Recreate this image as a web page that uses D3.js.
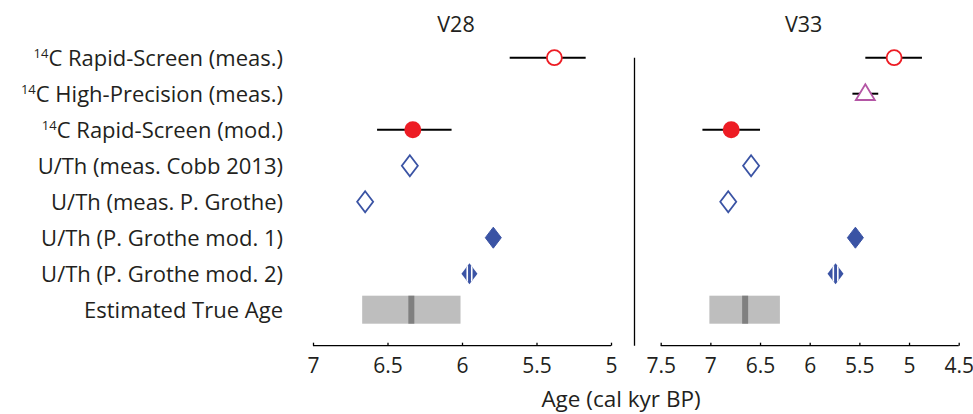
<!DOCTYPE html>
<html><head><meta charset="utf-8">
<script src="https://cdn.jsdelivr.net/npm/d3@7"></script>
<style>body{margin:0;background:#fff}text{font-family:"Open Sans",sans-serif;fill:#231f20}</style>
</head><body><svg id="c" width="973" height="414"></svg>
<script>
const categories = ["Rapid-Screen (meas.)","High-Precision (meas.)","Rapid-Screen (mod.)","U/Th (meas. Cobb 2013)","U/Th (meas. P. Grothe)","U/Th (P. Grothe mod. 1)","U/Th (P. Grothe mod. 2)","Estimated True Age"];
const has14C = [true,true,true,false,false,false,false,false];
const markers = ["openCircle","triangle","filledCircle","openDiamond","openDiamond","filledDiamond","stripedDiamond","box"];
const panels = ["V28","V33"];
const v28Values = [5.38, null, 6.33, 6.35, 6.65, 5.79, 5.95, 6.34];
const v28Low = [5.68, null, 6.57, null, null, null, null, 6.67];
const v28High = [5.17, null, 6.07, null, null, null, null, 6.01];
const v33Values = [5.15, 5.44, 6.79, 6.59, 6.82, 5.54, 5.74, 6.65];
const v33Low = [5.44, 5.57, 7.08, null, null, null, null, 7.01];
const v33High = [4.87, 5.31, 6.50, null, null, null, null, 6.30];
const v28Ticks = [7, 6.5, 6, 5.5, 5];
const v33Ticks = [7.5, 7, 6.5, 6, 5.5, 5, 4.5];
const xLabel = "Age (cal kyr BP)";

const svg = d3.select("#c");
const y = d3.scaleLinear().domain([0, 8]).range([57.7, 345.7]);
const xL = d3.scaleLinear().domain([7, 5]).range([313, 611]);
const xR = d3.scaleLinear().domain([7.5, 4.5]).range([660.7, 958.7]);
const RED = "#ed1c24", BLUE = "#3a53a4", MAG = "#b456a5";

// category labels
const lab = svg.append("g");
categories.forEach((c, i) => {
  const t = lab.append("text").attr("x", 283).attr("y", y(i) + 8).attr("text-anchor", "end").style("font-size", "22px");
  if (has14C[i]) {
    t.append("tspan").text("14").style("font-size", "13px").attr("dy", -8);
    t.append("tspan").text("C " + c).attr("dy", 8);
  } else t.text(c);
});

// vertical divider
svg.append("line").attr("x1", 634.5).attr("x2", 634.5).attr("y1", y(0)).attr("y2", y(8)).attr("stroke", "#000").attr("stroke-width", 1.3);

function drawPanel(x, vals, lo, hi, ticks, title) {
  const g = svg.append("g");
  const [r0, r1] = x.range();
  g.append("text").attr("x", (r0 + r1) / 2 - 6).attr("y", 32).attr("text-anchor", "middle").style("font-size", "21.5px").text(title);
  // axis
  const ax = g.append("g").attr("transform", `translate(0,${y(8)})`)
    .call(d3.axisBottom(x).tickValues(ticks).tickFormat(d3.format("")).tickSize(-3).tickSizeOuter(0).tickPadding(13));
  ax.select(".domain").attr("stroke", "#000").attr("stroke-width", 1.3).attr("d", `M${r0},0H${r1}`);
  ax.selectAll(".tick line").attr("stroke", "#000").attr("stroke-width", 1.3);
  ax.selectAll(".tick text").style("font-size", "21px").style("font-family", '"Open Sans",sans-serif').attr("fill", "#231f20").attr("dy", "0.71em").attr("y", 12);

  vals.forEach((v, i) => {
    if (v == null) return;
    const cy = y(i), cx = x(v), m = markers[i];
    if (m === "box") {
      g.append("rect").attr("x", x(lo[i])).attr("width", x(hi[i]) - x(lo[i])).attr("y", cy - 14).attr("height", 28).attr("fill", "#bebebe");
      g.append("rect").attr("x", cx - 3).attr("width", 6).attr("y", cy - 14).attr("height", 28).attr("fill", "#808080");
      return;
    }
    if (lo[i] != null) {
      g.append("line").attr("x1", x(lo[i])).attr("x2", x(hi[i])).attr("y1", cy).attr("y2", cy).attr("stroke", "#000").attr("stroke-width", 2);
    }
    if (m === "openCircle") {
      g.append("circle").attr("cx", cx).attr("cy", cy).attr("r", 7.5).attr("fill", "#fff").attr("stroke", RED).attr("stroke-width", 1.8);
    } else if (m === "filledCircle") {
      g.append("circle").attr("cx", cx).attr("cy", cy).attr("r", 8.5).attr("fill", RED);
    } else if (m === "triangle") {
      g.append("path").attr("d", `M${cx},${cy - 9.5}L${cx + 9.5},${cy + 6.3}L${cx - 9.5},${cy + 6.3}Z`).attr("fill", "#fff").attr("stroke", MAG).attr("stroke-width", 1.8);
    } else {
      const d = `M${cx},${cy - 10.5}L${cx + 8},${cy}L${cx},${cy + 10.5}L${cx - 8},${cy}Z`;
      if (m === "openDiamond") {
        g.append("path").attr("d", d).attr("fill", "#fff").attr("stroke", BLUE).attr("stroke-width", 1.8);
      } else if (m === "filledDiamond") {
        g.append("path").attr("d", d).attr("fill", BLUE).attr("stroke", BLUE).attr("stroke-width", 1);
      } else {
        const id = "clip" + title + i;
        svg.append("clipPath").attr("id", id).append("path").attr("d", d);
        g.append("path").attr("d", d).attr("fill", BLUE);
        [-3, 1.5].forEach(o => g.append("rect").attr("x", cx + o).attr("y", cy - 9).attr("width", 1.6).attr("height", 18).attr("fill", "#fff").attr("clip-path", `url(#${id})`));
      }
    }
  });
}
drawPanel(xL, v28Values, v28Low, v28High, v28Ticks, panels[0]);
drawPanel(xR, v33Values, v33Low, v33High, v33Ticks, panels[1]);

svg.append("text").attr("x", 621).attr("y", 407).attr("text-anchor", "middle").style("font-size", "22.5px").text(xLabel);
</script></body></html>
